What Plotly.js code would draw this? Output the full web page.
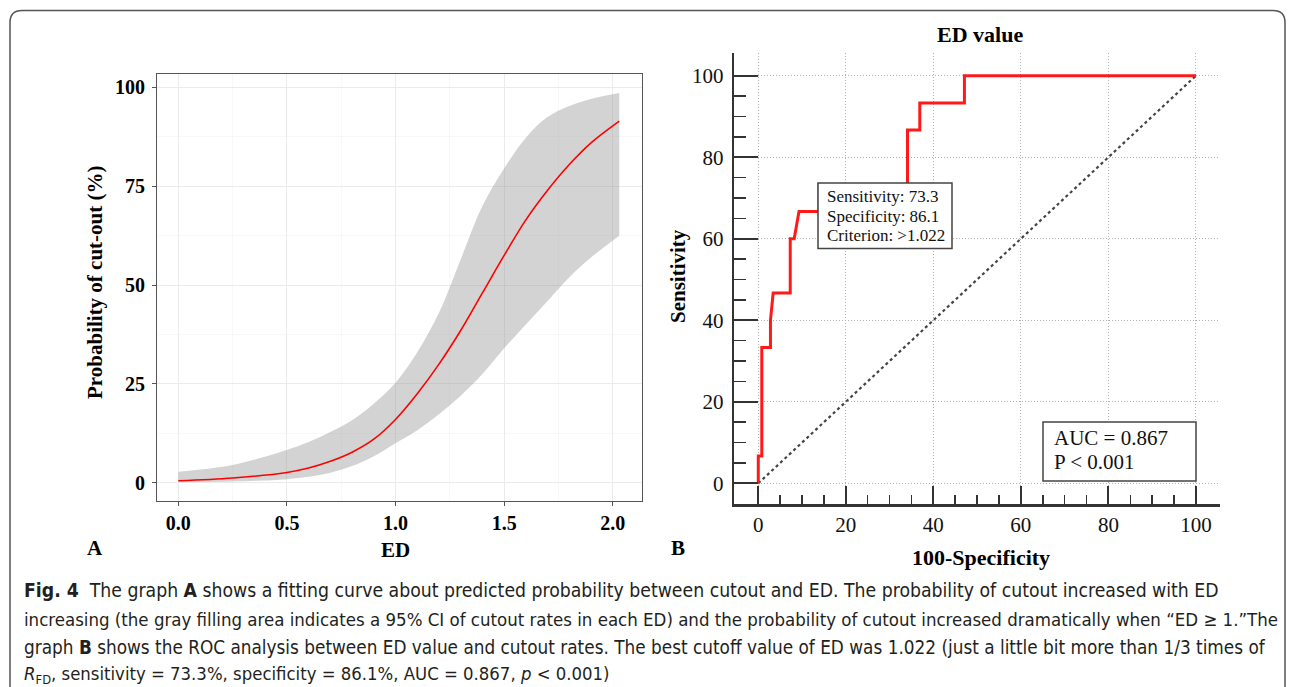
<!DOCTYPE html>
<html>
<head>
<meta charset="utf-8">
<script src="https://cdn.plot.ly/plotly-3.0.1.min.js"></script>
<style>html,body{margin:0;padding:0;background:#fff;}#chart{width:1295px;height:687px;}</style>
</head>
<body>
<div id="chart"></div>
<script>
// ---------- Data: panel A (fitted probability of cut-out vs ED) ----------
const edX       = [0.0, 0.25, 0.5, 0.6, 0.7, 0.8, 0.9, 1.0, 1.1, 1.2, 1.3, 1.4, 1.5, 1.6, 1.7, 1.8, 1.9, 2.03];
const probFit   = [0.5, 1.2, 2.6, 3.7, 5.4, 7.7, 11.0, 16.0, 22.5, 30.0, 38.5, 48.0, 57.5, 66.5, 74.0, 80.5, 86.0, 91.5];
const probUpper = [2.8, 4.5, 8.3, 10.3, 12.8, 15.8, 20.0, 25.3, 33.0, 43.0, 56.5, 70.0, 79.5, 87.3, 92.5, 95.3, 97.1, 98.6];
const probLower = [0.2, 0.3, 0.9, 1.5, 2.5, 4.2, 6.7, 10.0, 13.3, 17.3, 22.0, 27.5, 34.0, 40.0, 46.0, 52.0, 57.0, 62.5];
const aXTicks   = [0, 0.5, 1.0, 1.5, 2.0];
const aXLabels  = ['0.0', '0.5', '1.0', '1.5', '2.0'];
const aYTicks   = [0, 25, 50, 75, 100];

// ---------- Data: panel B (ROC curve of ED value) ----------
const rocFPR  = [0, 0, 0.8, 0.8, 2.78, 2.78, 3.4, 7.3, 7.3, 8.2, 9.3, 13.9, 13.9, 34.1, 34.1, 36.9, 36.9, 47.1, 47.1, 100];
const rocSens = [0, 6.67, 6.67, 33.3, 33.3, 40.0, 46.7, 46.7, 60.0, 60.0, 66.7, 66.7, 73.3, 73.3, 86.7, 86.7, 93.3, 93.3, 100, 100];
const refX    = [0, 100];
const refY    = [0, 100];
const rocTicks = [0, 20, 40, 60, 80, 100];
const rocMinor = [5, 10, 15, 25, 30, 35, 45, 50, 55, 65, 70, 75, 85, 90, 95];
const rocBoxLines = ['Sensitivity: 73.3', 'Specificity: 86.1', 'Criterion: >1.022'];
const aucLines = ['AUC = 0.867', 'P < 0.001'];

// ---------- Caption ----------
const captionLines = [
  '<b>Fig. 4</b>  The graph <b>A</b> shows a fitting curve about predicted probability between cutout and ED. The probability of cutout increased with ED',
  'increasing (the gray filling area indicates a 95% CI of cutout rates in each ED) and the probability of cutout increased dramatically when \u201cED \u2265 1.\u201dThe',
  'graph <b>B</b> shows the ROC analysis between ED value and cutout rates. The best cutoff value of ED was 1.022 (just a little bit more than 1/3 times of',
  '<i>R</i><sub>FD</sub>, sensitivity = 73.3%, specificity = 86.1%, AUC = 0.867, <i>p</i> < 0.001)'
];

// pixel -> paper helpers
const W = 1295, H = 687;
const px = v => v / W;
const py = v => 1 - v / H;

const SERIF = 'Liberation Serif, Times New Roman, serif';
const CAPF = "'Liberation Sans Narrow', 'DejaVu Sans Condensed', Roboto, sans-serif";

// caption size fitted to the line lengths seen in the figure
const capTargetW = [1188, 1255, 1240, 563];
const capY = [590, 619, 647, 675];
const cvs = document.createElement('canvas').getContext('2d');
function rawSize(html, targetW) {
  const txt = html.replace(/<[^>]+>/g, '');
  cvs.font = '20px ' + CAPF;
  return 20 * targetW / cvs.measureText(txt).width;
}
const rawSizes = captionLines.map((t, i) => rawSize(t, capTargetW[i]));
const meanSize = (rawSizes[0] + rawSizes[1] + rawSizes[2]) / 3;
const capSizes = rawSizes.map(s => Math.max(meanSize * 0.975, Math.min(meanSize * 1.02, s)));

const traces = [
  { x: edX, y: probLower, xaxis: 'x', yaxis: 'y', mode: 'lines', line: {width: 0, shape: 'spline'}, hoverinfo: 'skip', showlegend: false },
  { x: edX, y: probUpper, xaxis: 'x', yaxis: 'y', mode: 'lines', line: {width: 0, shape: 'spline'}, fill: 'tonexty', fillcolor: 'rgba(150,150,150,0.42)', showlegend: false },
  { x: edX, y: probFit, xaxis: 'x', yaxis: 'y', mode: 'lines', line: {color: '#ff0000', width: 1.6, shape: 'spline'}, showlegend: false },
  { x: refX, y: refY, xaxis: 'x2', yaxis: 'y2', mode: 'lines', line: {color: '#444', width: 2.2, dash: 'dot'}, showlegend: false },
  { x: rocFPR, y: rocSens, xaxis: 'x2', yaxis: 'y2', mode: 'lines', line: {color: '#ff1a1a', width: 3}, showlegend: false }
];

const annotations = [];
const bold = (size) => ({family: SERIF, size: size, weight: 'bold', color: '#000'});
// Panel A titles
annotations.push({xref:'paper', yref:'paper', x: px(95), y: py(282), text: 'Probability of cut-out (%)', textangle: -90, showarrow: false,
  font: bold(21), xanchor: 'center', yanchor: 'middle'});
annotations.push({xref:'paper', yref:'paper', x: px(395), y: py(550), text: 'ED', showarrow: false, font: bold(21), xanchor: 'center', yanchor: 'middle'});
annotations.push({xref:'paper', yref:'paper', x: px(95), y: py(548), text: 'A', showarrow: false, font: bold(21), xanchor: 'center', yanchor: 'middle'});
annotations.push({xref:'paper', yref:'paper', x: px(678), y: py(548), text: 'B', showarrow: false, font: bold(21), xanchor: 'center', yanchor: 'middle'});
// Panel B titles
annotations.push({xref:'paper', yref:'paper', x: px(980), y: py(35), text: 'ED value', showarrow: false, font: bold(22), xanchor: 'center', yanchor: 'middle'});
annotations.push({xref:'paper', yref:'paper', x: px(981), y: py(557), text: '100-Specificity', showarrow: false, font: bold(22), xanchor: 'center', yanchor: 'middle'});
annotations.push({xref:'paper', yref:'paper', x: px(678), y: py(276), text: 'Sensitivity', textangle: -90, showarrow: false, font: bold(21), xanchor: 'center', yanchor: 'middle'});
// Panel B box texts
const boxY = [197, 216.5, 235.5];
rocBoxLines.forEach((t, i) => annotations.push({xref:'paper', yref:'paper', x: px(825), y: py(boxY[i]), xanchor: 'left', yanchor: 'middle',
  text: t, showarrow: false, font: {family: SERIF, size: 17, color: '#111'}}));
const aucY = [438, 462];
aucLines.forEach((t, i) => annotations.push({xref:'paper', yref:'paper', x: px(1052), y: py(aucY[i]), xanchor: 'left', yanchor: 'middle',
  text: t, showarrow: false, font: {family: SERIF, size: 21, color: '#111'}}));
// Caption
captionLines.forEach((t, i) => {
  annotations.push({xref:'paper', yref:'paper', x: px(22), y: py(capY[i]), xanchor: 'left', yanchor: 'middle',
    text: t, showarrow: false, font: {family: CAPF, size: capSizes[i], color: '#231f20'}});
});

// outer rounded frame
const L = px(10), R = px(1285), T = py(10.5), B = -0.05, rx = 12 / W, ry = 12 / H;
const framePath = `M ${L},${B} L ${L},${T - ry} Q ${L},${T} ${L + rx},${T} L ${R - rx},${T} Q ${R},${T} ${R},${T - ry} L ${R},${B}`;

const layout = {
  width: W, height: H,
  margin: {l: 0, r: 0, t: 0, b: 0},
  paper_bgcolor: '#fff', plot_bgcolor: '#fff',
  showlegend: false,
  xaxis: {
    domain: [px(157), px(642.3)], range: [-0.098, 2.136], anchor: 'y',
    tickvals: aXTicks, ticktext: aXLabels, ticks: 'outside', ticklen: 4, tickwidth: 1, tickcolor: '#555',
    tickfont: {family: SERIF, size: 20, weight: 'bold', color: '#000'},
    showgrid: true, gridcolor: '#ebebeb', gridwidth: 1.1, zeroline: false,
    minor: {dtick: 0.25, tick0: 0, showgrid: true, gridcolor: '#f4f4f4', gridwidth: 0.6},
    showline: true, mirror: true, linecolor: '#555', linewidth: 1
  },
  yaxis: {
    domain: [py(501), py(74)], range: [-4.63, 103.4], anchor: 'x',
    tickvals: aYTicks, ticks: 'outside', ticklen: 4, tickwidth: 1, tickcolor: '#555',
    ticklabelstandoff: 3,
    tickfont: {family: SERIF, size: 20, weight: 'bold', color: '#000'},
    showgrid: true, gridcolor: '#ebebeb', gridwidth: 1.1, zeroline: false,
    minor: {dtick: 12.5, tick0: 0, showgrid: true, gridcolor: '#f4f4f4', gridwidth: 0.6},
    showline: true, mirror: true, linecolor: '#555', linewidth: 1
  },
  xaxis2: {
    domain: [px(734), px(1220)], range: [-5.55, 105.5], anchor: 'y2',
    tickvals: rocTicks, ticks: 'inside', ticklen: 18, tickwidth: 2, tickcolor: '#333',
    ticklabelstandoff: 0,
    tickfont: {family: SERIF, size: 21, color: '#111'},
    showgrid: true, gridcolor: '#b0b0b0', gridwidth: 1, griddash: '1px,2px', zeroline: false,
    minor: {tickvals: rocMinor, ticks: 'inside', ticklen: 9, tickwidth: 1.5, tickcolor: '#333', showgrid: false},
    showline: true, mirror: false, linecolor: '#333', linewidth: 2.2
  },
  yaxis2: {
    domain: [py(504.3), py(53.3)], range: [-5.15, 105.5], anchor: 'x2',
    tickvals: rocTicks, ticks: 'inside', ticklen: 24, tickwidth: 2, tickcolor: '#333',
    ticklabelstandoff: 4,
    tickfont: {family: SERIF, size: 21, color: '#111'},
    showgrid: true, gridcolor: '#b0b0b0', gridwidth: 1, griddash: '1px,2px', zeroline: false,
    minor: {tickvals: rocMinor, ticks: 'inside', ticklen: 12, tickwidth: 1.5, tickcolor: '#333', showgrid: false},
    showline: true, mirror: false, linecolor: '#333', linewidth: 2.2
  },
  annotations: annotations,
  shapes: [
    {type: 'path', xref: 'paper', yref: 'paper', path: framePath, line: {color: '#555', width: 1.5}, layer: 'above'},
    {type: 'rect', xref: 'paper', yref: 'paper', x0: px(818), x1: px(952), y0: py(248.5), y1: py(183),
      fillcolor: '#fff', line: {color: '#444', width: 1.5}, layer: 'above'},
    {type: 'rect', xref: 'paper', yref: 'paper', x0: px(1043), x1: px(1196), y0: py(481), y1: py(422),
      fillcolor: '#fff', line: {color: '#444', width: 1.5}, layer: 'above'}
  ]
};

Plotly.newPlot('chart', traces, layout, {displayModeBar: false, staticPlot: true});
</script>
</body>
</html>
